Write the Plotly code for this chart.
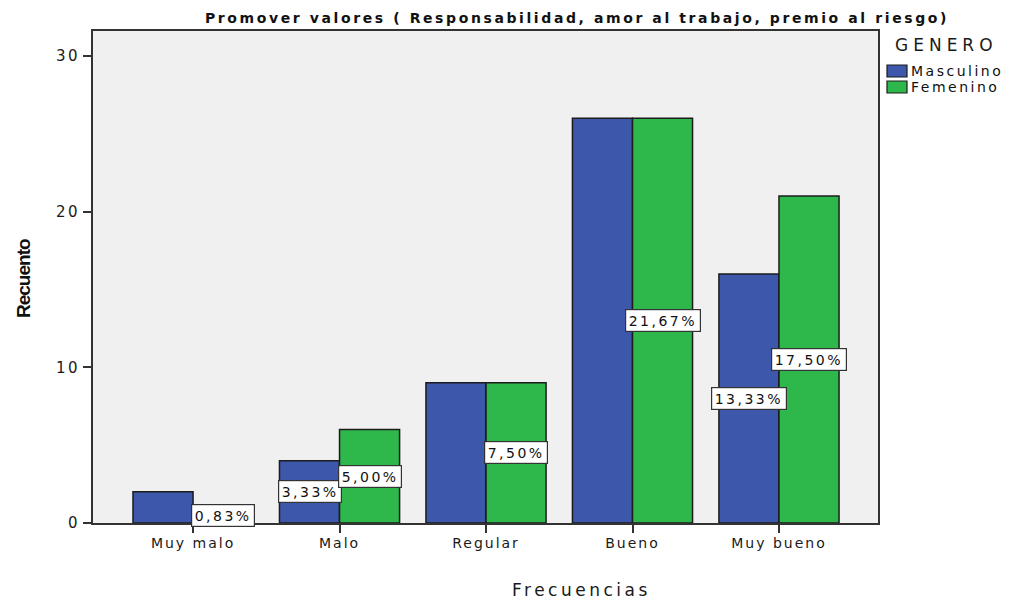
import plotly.graph_objects as go

# Counts per response category and gender
categories = ["Muy malo", "Malo", "Regular", "Bueno", "Muy bueno"]
masculino = [2, 4, 9, 26, 16]
femenino = [1, 6, 9, 26, 21]
# Which bars carry a percentage label (the rest overlap and are hidden)
show_masc = [False, True, False, False, True]
show_fem = [True, True, True, True, True]
y_ticks = [0, 10, 20, 30]
series_names = ["Masculino", "Femenino"]

total = sum(masculino) + sum(femenino)

BLUE = "#3d57ab"
GREEN = "#2eb84b"
EDGE = "#1c1c1c"
FONT = "DejaVu Sans"
TEXT = "#111111"

# Plot area in pixels
L, R, T, B = 93, 878, 31, 523
W, H = 1009, 600


def px(x):
    return (x - L) / (R - L)


def py(y):
    return (B - y) / (B - T)


def spaced(text, s):
    return f'<span style="letter-spacing:{s}px">{text}</span>'


def pct(v):
    return f"{100 * v / total:.2f}".replace(".", ",") + "%"


fig = go.Figure()
for vals, name, color in ((masculino, series_names[0], BLUE), (femenino, series_names[1], GREEN)):
    fig.add_trace(go.Bar(
        x=list(range(len(categories))), y=vals, name=name,
        marker=dict(color=color, line=dict(color=EDGE, width=1.5)),
    ))

half = (1 - 0.18) / 4  # half of a single bar's width in category units
annotations = []
for i, (m, f) in enumerate(zip(masculino, femenino)):
    for val, show, off in ((m, show_masc[i], -half), (f, show_fem[i], half)):
        if not show:
            continue
        annotations.append(dict(
            x=i + off, y=val / 2, xref="x", yref="y",
            text=spaced(pct(val), 2.5), showarrow=False,
            font=dict(family=FONT, size=14, color=TEXT),
            bgcolor="white", bordercolor="#333333", borderwidth=1.2, borderpad=2.5,
        ))

# Axis titles
annotations.append(dict(
    x=px(23), y=py(279), xref="paper", yref="paper", textangle=-90,
    xanchor="center", yanchor="middle",
    text="<b>" + spaced("Recuento", -1) + "</b>", showarrow=False,
    font=dict(family="Liberation Sans", size=19, color=TEXT),
))
annotations.append(dict(
    x=px(581), y=py(590), xref="paper", yref="paper",
    xanchor="center", yanchor="middle",
    text=spaced("Frecuencias", 3.5), showarrow=False,
    font=dict(family=FONT, size=17, color="#1a1a1a"),
))

# Legend drawn by hand so it fits the narrow right margin
annotations.append(dict(
    x=px(946), y=py(45), xref="paper", yref="paper",
    xanchor="center", yanchor="middle",
    text=spaced("GENERO", 5), showarrow=False,
    font=dict(family=FONT, size=17, color="#1a1a1a"),
))
shapes = []
for k, (name, color) in enumerate(zip(series_names, (BLUE, GREEN))):
    yc = 71 + 16 * k
    shapes.append(dict(
        type="rect", xref="paper", yref="paper",
        x0=px(887), x1=px(907), y0=py(yc - 6), y1=py(yc + 6),
        fillcolor=color, line=dict(color=EDGE, width=1.2),
    ))
    annotations.append(dict(
        x=px(909), y=py(yc), xref="paper", yref="paper",
        xanchor="left", yanchor="middle",
        text=spaced(name, 2.5), showarrow=False,
        font=dict(family=FONT, size=14, color=TEXT),
    ))

fig.update_layout(
    width=W, height=H,
    margin=dict(l=L, r=W - R, t=T, b=H - B, autoexpand=False),
    paper_bgcolor="white", plot_bgcolor="#f0f0f0",
    barmode="group", bargap=0.18, bargroupgap=0,
    showlegend=False,
    title=dict(
        text="<b>" + spaced("Promover valores ( Responsabilidad, amor al trabajo, premio al riesgo)", 2.6) + "</b>",
        x=px(577), xref="paper", xanchor="center",
        y=1 - 18 / H, yref="container", yanchor="middle",
        font=dict(family=FONT, size=14, color=TEXT),
    ),
    xaxis=dict(
        range=[-0.683, 4.676], tickmode="array",
        tickvals=list(range(len(categories))),
        ticktext=[spaced(c, 2) for c in categories],
        ticks="outside", ticklen=8, tickwidth=1.5, tickcolor="#333333",
        showline=True, linecolor="#333333", linewidth=1.8, mirror=True,
        showgrid=False, zeroline=False, ticklabelstandoff=-2,
        tickfont=dict(family=FONT, size=14, color="#1a1a1a"),
    ),
    yaxis=dict(
        range=[0, 31.6], tickvals=y_ticks,
        ticktext=[spaced(str(t), 2.5) for t in y_ticks],
        ticks="outside", ticklen=8, tickwidth=1.5, tickcolor="#333333",
        showline=True, linecolor="#333333", linewidth=1.8, mirror=True,
        showgrid=False, zeroline=False,
        tickfont=dict(family=FONT, size=15, color="#1a1a1a"),
    ),
    annotations=annotations,
    shapes=shapes,
)

fig.write_html("out.html")
